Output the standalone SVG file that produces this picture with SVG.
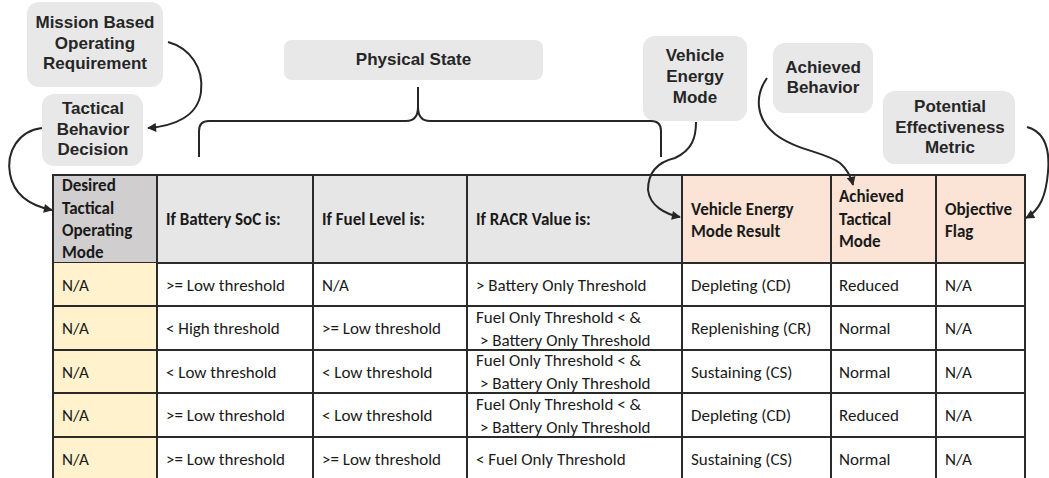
<svg xmlns="http://www.w3.org/2000/svg" width="1049" height="478" viewBox="0 0 1049 478">
<defs>
<marker id="ah" viewBox="0 0 10 10" refX="9" refY="5" markerWidth="5" markerHeight="4.5" orient="auto">
<path d="M0,0 L10,5 L0,10 z" fill="#262626"/>
</marker>
<style>
.call rect{fill:#e8e8e8;}
.call text{font-family:"Liberation Sans",Arial,sans-serif;font-weight:bold;font-size:17px;fill:#262626;text-anchor:middle;}
.cell{stroke:#2a2a2a;stroke-width:2;}
.t{font-family:Carlito,Lato,"Liberation Sans",sans-serif;font-size:17px;fill:#1a1a1a;}
.b{font-weight:bold;}
.conn path{fill:none;stroke:#262626;stroke-width:2;}
</style>
</defs>
<rect width="1049" height="478" fill="#ffffff"/>

<g id="mission" class="call">
<rect x="27" y="2" width="136" height="85" rx="12"/>
<text x="95" y="28">Mission Based</text>
<text x="95" y="49">Operating</text>
<text x="95" y="69">Requirement</text>
</g>
<g id="tactical" class="call">
<rect x="42" y="94" width="101" height="72" rx="12"/>
<text x="93" y="114">Tactical</text>
<text x="93" y="135">Behavior</text>
<text x="93" y="155">Decision</text>
</g>
<g id="physical" class="call">
<rect x="284" y="40" width="259" height="40" rx="8"/>
<text x="413.5" y="65">Physical State</text>
</g>
<g id="vem" class="call">
<rect x="643" y="36" width="104" height="85" rx="12"/>
<text x="695" y="61">Vehicle</text>
<text x="695" y="82">Energy</text>
<text x="695" y="103">Mode</text>
</g>
<g id="achieved" class="call">
<rect x="773" y="43" width="100" height="70" rx="12"/>
<text x="823" y="73">Achieved</text>
<text x="823" y="93">Behavior</text>
</g>
<g id="potential" class="call">
<rect x="883" y="91" width="132" height="73" rx="12"/>
<text x="950" y="112">Potential</text>
<text x="950" y="133">Effectiveness</text>
<text x="950" y="153">Metric</text>
</g>

<g id="table">
<rect class="cell" x="53" y="175" width="104" height="88" fill="#d0cece"/>
<rect class="cell" x="157" y="175" width="156" height="88" fill="#e7e6e6"/>
<rect class="cell" x="313" y="175" width="154" height="88" fill="#e7e6e6"/>
<rect class="cell" x="467" y="175" width="215" height="88" fill="#e7e6e6"/>
<rect class="cell" x="682" y="175" width="149" height="88" fill="#fbe4d5"/>
<rect class="cell" x="831" y="175" width="105" height="88" fill="#fbe4d5"/>
<rect class="cell" x="936" y="175" width="89" height="88" fill="#fbe4d5"/>
<rect x="53" y="263" width="104" height="217" fill="#fff2cc"/>
<path class="cell" fill="none" d="M53,263V480M157,263V480M313,263V480M467,263V480M682,263V480M831,263V480M936,263V480M1025,263V480M53,306H1025M53,350H1025M53,393H1025M53,437H1025M53,479H1025"/>

<text class="t b" x="62" y="191">Desired</text>
<text class="t b" x="62" y="214">Tactical</text>
<text class="t b" x="62" y="236">Operating</text>
<text class="t b" x="62" y="258">Mode</text>
<text class="t b" x="166" y="225">If Battery SoC is:</text>
<text class="t b" x="322" y="225">If Fuel Level is:</text>
<text class="t b" x="476" y="225">If RACR Value is:</text>
<text class="t b" x="691" y="215">Vehicle Energy</text>
<text class="t b" x="691" y="237">Mode Result</text>
<text class="t b" x="839" y="202">Achieved</text>
<text class="t b" x="839" y="225">Tactical</text>
<text class="t b" x="839" y="247">Mode</text>
<text class="t b" x="945" y="215">Objective</text>
<text class="t b" x="945" y="237">Flag</text>

<text class="t" x="62" y="291">N/A</text>
<text class="t" x="166" y="291">&gt;= Low threshold</text>
<text class="t" x="322" y="291">N/A</text>
<text class="t" x="476" y="291">&gt; Battery Only Threshold</text>
<text class="t" x="691" y="291">Depleting (CD)</text>
<text class="t" x="839" y="291">Reduced</text>
<text class="t" x="945" y="291">N/A</text>

<text class="t" x="62" y="334">N/A</text>
<text class="t" x="166" y="334">&lt; High threshold</text>
<text class="t" x="322" y="334">&gt;= Low threshold</text>
<text class="t" x="476" y="323">Fuel Only Threshold &lt; &amp;</text>
<text class="t" x="480" y="346">&gt; Battery Only Threshold</text>
<text class="t" x="691" y="334">Replenishing (CR)</text>
<text class="t" x="839" y="334">Normal</text>
<text class="t" x="945" y="334">N/A</text>

<text class="t" x="62" y="378">N/A</text>
<text class="t" x="166" y="378">&lt; Low threshold</text>
<text class="t" x="322" y="378">&lt; Low threshold</text>
<text class="t" x="476" y="366">Fuel Only Threshold &lt; &amp;</text>
<text class="t" x="480" y="389">&gt; Battery Only Threshold</text>
<text class="t" x="691" y="378">Sustaining (CS)</text>
<text class="t" x="839" y="378">Normal</text>
<text class="t" x="945" y="378">N/A</text>

<text class="t" x="62" y="421">N/A</text>
<text class="t" x="166" y="421">&gt;= Low threshold</text>
<text class="t" x="322" y="421">&lt; Low threshold</text>
<text class="t" x="476" y="410">Fuel Only Threshold &lt; &amp;</text>
<text class="t" x="480" y="433">&gt; Battery Only Threshold</text>
<text class="t" x="691" y="421">Depleting (CD)</text>
<text class="t" x="839" y="421">Reduced</text>
<text class="t" x="945" y="421">N/A</text>

<text class="t" x="62" y="465">N/A</text>
<text class="t" x="166" y="465">&gt;= Low threshold</text>
<text class="t" x="322" y="465">&gt;= Low threshold</text>
<text class="t" x="476" y="465">&lt; Fuel Only Threshold</text>
<text class="t" x="691" y="465">Sustaining (CS)</text>
<text class="t" x="839" y="465">Normal</text>
<text class="t" x="945" y="465">N/A</text>
</g>

<g id="connectors" class="conn">
<path d="M199,157 V131 Q199,121 209,121 H406 Q418,121 418,107 V87 M418,107 Q418,121 430,121 H651 Q661,121 661,131 V157" stroke-width="3.5"/>
<path d="M168,42 C190,48 204,68 201,92 C198,116 175,126 148,128" marker-end="url(#ah)"/>
<path d="M42,128 C18,131 6,152 10,174 C14,196 32,206 52,210" marker-end="url(#ah)"/>
<path d="M696,122 C696,138 692,150 675,158 C658,162 648,172 648,190 C650,206 665,214 680,217" marker-end="url(#ah)"/>
<path d="M767,78 C755,95 755,118 775,134 C795,150 825,152 840,163 C848,170 851,177 853,185" marker-end="url(#ah)"/>
<path d="M1027,127 C1045,132 1050,150 1048,172 C1046,196 1040,210 1026,218" marker-end="url(#ah)"/>
</g>
</svg>
